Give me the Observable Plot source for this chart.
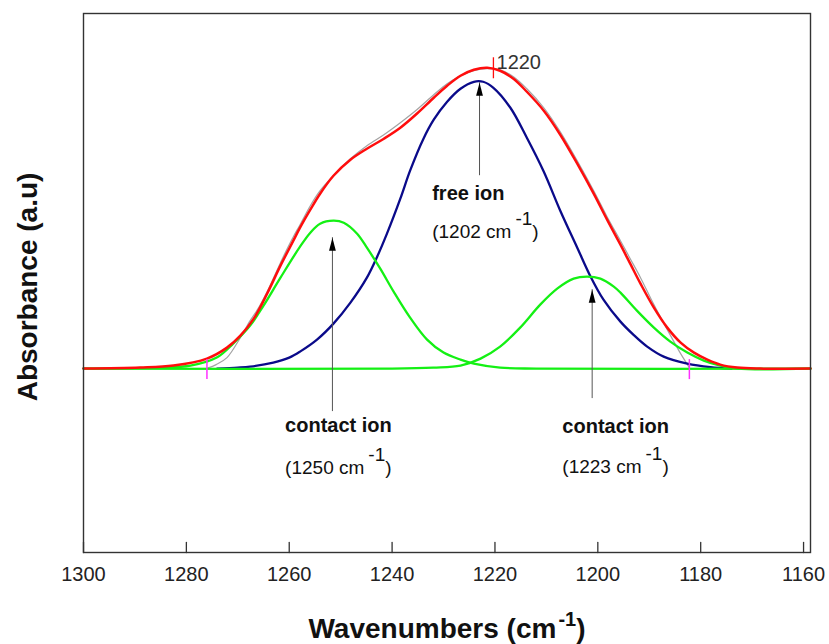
<!DOCTYPE html>
<html>
<head>
<meta charset="utf-8">
<script src="https://cdn.jsdelivr.net/npm/d3@7"></script>
<script src="https://cdn.jsdelivr.net/npm/@observablehq/plot@0.6"></script>
<style>
  html, body { margin: 0; padding: 0; background: #fff; }
  #chart { width: 829px; height: 644px; }
</style>
</head>
<body>
<div id="chart"></div>
<script>
// ---------- data ----------
const xTicks = [1300, 1280, 1260, 1240, 1220, 1200, 1180, 1160];
const xDomain = [1300, 1158.65];
const yDomain = [-0.184, 0.3553];

// measured spectrum (grey), [wavenumber, absorbance]
const measured = [
  [1275.9,0.0005],[1274.2,0.004],[1272.1,0.011],[1269.5,0.031],[1267.6,0.048],[1266.3,0.058],
  [1264.3,0.077],[1261.7,0.106],[1260.4,0.120],[1259.2,0.132],[1257.9,0.144],[1255.9,0.163],
  [1254.0,0.178],[1251.4,0.193],[1248.1,0.210],[1244.9,0.223],[1241.6,0.234],[1238.4,0.246],
  [1235.2,0.259],[1231.9,0.274],[1229.3,0.285],[1226.7,0.293],[1224.1,0.298],[1221.5,0.300],
  [1219.0,0.299],[1216.4,0.292],[1213.8,0.280],[1210.5,0.261],[1207.3,0.237],[1204.0,0.208],
  [1200.8,0.178],[1198.2,0.152],[1195.6,0.128],[1193.7,0.110],[1191.7,0.091],[1189.1,0.064],
  [1186.5,0.039],[1185.0,0.025],[1183.9,0.015],[1182.2,0.001]
];

// fitted envelope (red)
const fitted = [
  [1300,0],[1289.0,0.001],[1282.5,0.003],[1276.0,0.010],[1272.1,0.021],[1269.5,0.033],
  [1266.9,0.050],[1264.3,0.075],[1261.7,0.103],[1259.2,0.128],[1257.9,0.141],[1255.9,0.159],
  [1254.0,0.175],[1251.4,0.193],[1248.1,0.209],[1244.9,0.220],[1241.6,0.230],[1238.4,0.241],
  [1235.2,0.255],[1231.9,0.271],[1229.3,0.283],[1226.7,0.293],[1224.1,0.299],[1221.5,0.301],
  [1219.0,0.298],[1216.4,0.290],[1213.8,0.277],[1210.5,0.258],[1207.3,0.234],[1204.0,0.205],
  [1200.8,0.175],[1198.2,0.149],[1195.6,0.124],[1193.7,0.105],[1191.7,0.085],[1189.1,0.061],
  [1186.5,0.041],[1183.9,0.026],[1181.3,0.016],[1178.7,0.009],[1176.2,0.004],[1172.9,0.001],
  [1168.4,0],[1158.65,0]
];

// free ion component (blue)
const freeIon = [
  [1274.0,0],[1270.0,0.001],[1267.6,0.002],[1263.1,0.006],[1260.0,0.011],[1257.9,0.017],
  [1254.6,0.029],[1251.4,0.045],[1248.1,0.066],[1244.9,0.091],[1242.9,0.112],[1241.0,0.135],
  [1238.4,0.170],[1236.5,0.198],[1233.9,0.230],[1231.9,0.249],[1229.3,0.267],[1226.7,0.280],
  [1224.1,0.287],[1222.3,0.287],[1220.3,0.281],[1217.0,0.261],[1213.8,0.231],[1210.5,0.197],
  [1207.3,0.158],[1204.0,0.121],[1201.4,0.092],[1198.9,0.069],[1195.6,0.047],[1193.1,0.034],
  [1190.4,0.022],[1187.2,0.012],[1182.6,0.005],[1178.1,0.0015],[1174.0,0]
];

// contact ion component at 1250 (green, left)
const contactIon1250 = [
  [1300,0],[1285.7,0.001],[1279.2,0.003],[1274.1,0.011],[1270.9,0.025],[1267.6,0.043],
  [1265.0,0.063],[1261.7,0.091],[1257.9,0.122],[1255.9,0.136],[1254.0,0.145],[1251.4,0.148],
  [1249.4,0.146],[1246.8,0.135],[1244.9,0.121],[1242.3,0.100],[1239.7,0.077],[1236.5,0.051],
  [1233.2,0.029],[1230.0,0.016],[1226.7,0.009],[1224.1,0.005],[1219.0,0.001],[1212,0],[1158.65,0]
];

// contact ion component at 1223 (green, right)
const contactIon1223 = [
  [1300,0],[1240,0],[1232,0.001],[1226.7,0.003],[1222.8,0.010],[1219.0,0.022],[1215.1,0.041],
  [1211.2,0.064],[1207.9,0.080],[1204.7,0.090],[1202.1,0.092],[1199.5,0.090],[1196.9,0.082],
  [1195.6,0.076],[1192.4,0.058],[1189.1,0.041],[1185.9,0.027],[1182.6,0.016],[1179.4,0.008],
  [1176.2,0.003],[1172.9,0],[1158.65,0]
];

// fit-range markers (magenta) and peak marker
const rangeMarkers = [1276.0, 1182.2];
const peakMarker = [1220.3];
const peakLabel = ["1220"];

// annotations
const nameLabels = ["free ion", "contact ion", "contact ion"];
const valueLabels = ["(1202 cm-1)", "(1250 cm-1)", "(1223 cm-1)"];
const labelWn = [1232.2, 1260.8, 1206.9];
const nameAbs = [0.169, -0.063, -0.064];
const valueAbs = [0.131, -0.105, -0.104];

// arrows
const arrowWn = [1223.0, 1251.6, 1201.1];
const arrowTip = [0.286, 0.131, 0.079];
const arrowTail = [0.193, -0.043, -0.030];

// ---------- chart ----------
const fontFamily = '"Liberation Sans", Arial, Helvetica, sans-serif';
const toRows = (pts) => d3.sort(pts.map(([wn, abs]) => ({wn, abs})), d => d.wn);
const tickShape = {draw(ctx, l) { ctx.moveTo(0, 0); ctx.lineTo(0, -l); }};
const headSymbol = {draw(ctx) { ctx.moveTo(0, 0); ctx.lineTo(3.4, 13); ctx.lineTo(-3.4, 13); ctx.closePath(); }};
const idx = (arr) => arr.map((_, i) => i);
const curve = "catmull-rom";

const svg = Plot.plot({
  width: 829,
  height: 644,
  marginLeft: 83,
  marginRight: 19,
  marginTop: 13,
  marginBottom: 92,
  style: {fontFamily, background: "#fff", color: "#222"},
  x: {domain: xDomain},
  y: {domain: yDomain, axis: null},
  marks: [
    Plot.line(toRows(measured), {x: "wn", y: "abs", stroke: "#a3a3a3", strokeWidth: 1.2, curve}),
    Plot.line(toRows(freeIon), {x: "wn", y: "abs", stroke: "#0a0a8a", strokeWidth: 2.3, curve}),
    Plot.line(toRows(contactIon1250), {x: "wn", y: "abs", stroke: "#14f014", strokeWidth: 2.3, curve}),
    Plot.line(toRows(contactIon1223), {x: "wn", y: "abs", stroke: "#14f014", strokeWidth: 2.3, curve}),
    Plot.line(toRows(fitted), {x: "wn", y: "abs", stroke: "#ff0d0d", strokeWidth: 2.5, curve}),
    Plot.ruleX(rangeMarkers, {x: d => d, y1: -0.011, y2: 0.009, stroke: "#ff30ff", strokeWidth: 1.5}),
    Plot.ruleX(peakMarker, {x: d => d, y1: 0.290, y2: 0.311, stroke: "#ff0d0d", strokeWidth: 1.3}),
    Plot.text(peakLabel, {x: () => peakMarker[0] - 0.6, y: 0.300, text: d => d, textAnchor: "start", lineAnchor: "bottom", fontSize: 20, fill: "#333"}),
    Plot.ruleX(idx(arrowWn), {x: i => arrowWn[i], y1: i => arrowTail[i], y2: i => arrowTip[i], stroke: "#555", strokeWidth: 1}),
    Plot.dot(idx(arrowWn), {x: i => arrowWn[i], y: i => arrowTip[i], symbol: headSymbol, fill: "#000", stroke: "none"}),
    Plot.text(idx(nameLabels), {x: i => labelWn[i], y: i => nameAbs[i], text: i => nameLabels[i], textAnchor: "start", lineAnchor: "bottom", fontSize: 20, fontWeight: "bold", fill: "#111"}),
    Plot.text(idx(valueLabels), {x: i => labelWn[i], y: i => valueAbs[i], text: i => valueLabels[i], textAnchor: "start", lineAnchor: "bottom", fontSize: 19, fill: "#111"}),
    Plot.frame({stroke: "#333", strokeWidth: 1.4}),
    Plot.vector(xTicks, {x: d => d, y: yDomain[0], length: 10, anchor: "start", shape: tickShape, stroke: "#333", strokeWidth: 1.3}),
    Plot.axisX({ticks: xTicks, tickSize: 0, tickPadding: 14, fontSize: 20, tickFormat: d => String(d), label: null, fill: "#222"}),
    Plot.text(["Wavenumbers (cm-1)"], {frameAnchor: "bottom", textAnchor: "middle", lineAnchor: "bottom", dy: 85, fontSize: 28, fontWeight: "bold", fill: "#111"}),
    Plot.text(["Absorbance (a.u)"], {frameAnchor: "left", textAnchor: "middle", rotate: -90, dx: -55, dy: 4, fontSize: 28, fontWeight: "bold", fill: "#111"})
  ]
});

// superscript "-1" in the cm-1 units
d3.select(svg).selectAll("text").each(function () {
  const s = this.textContent;
  const k = s.indexOf("cm-1");
  if (k < 0) return;
  const isTitle = s.startsWith("Wavenumbers");
  const raise = isTitle ? 12 : 13;
  const supSize = isTitle ? 20 : 19;
  const before = s.slice(0, k + 2);
  const after = s.slice(k + 4);
  const el = d3.select(this);
  el.text(null);
  el.append("tspan").text(before);
  el.append("tspan").attr("dx", isTitle ? 2 : 4).attr("dy", -raise).attr("font-size", supSize).text("-1");
  el.append("tspan").attr("dy", raise).text(after);
});

document.getElementById("chart").appendChild(svg);
</script>
</body>
</html>
